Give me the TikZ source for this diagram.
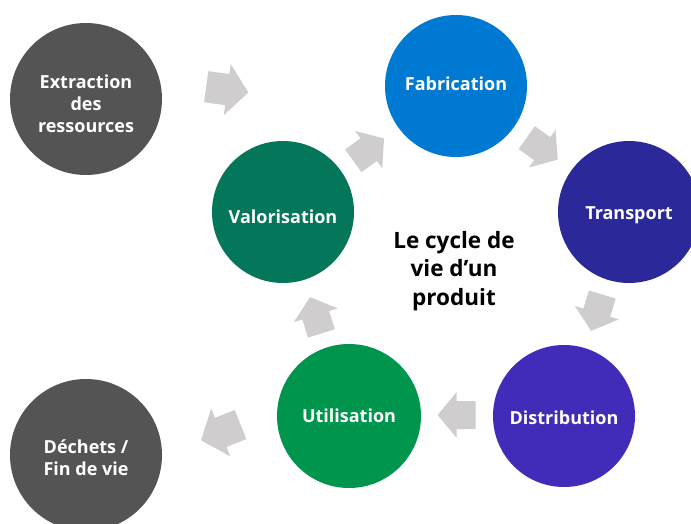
\documentclass[tikz,border=0pt]{standalone}
\usepackage{fontspec}
\setmainfont{Open Sans}
\newcommand\labelfont{\bfseries\fontsize{18}{22}\selectfont}
\newcommand\headfont{\bfseries\fontsize{22.5}{28.5}\selectfont}
\newcommand\liftone[2]{\raisebox{#1}[\height][\depth]{#2}}
\newcommand\liftmany[2]{\raisebox{#1}[\height][\depth]{\begin{tabular}{@{}c@{}}#2\end{tabular}}}
\definecolor{stonegray}{HTML}{545454}
\definecolor{fabblue}{HTML}{0079D3}
\definecolor{transind}{HTML}{2B2899}
\definecolor{distviolet}{HTML}{412BB9}
\definecolor{utilgreen}{HTML}{00954C}
\definecolor{valgreen}{HTML}{04775A}
\definecolor{arrowgray}{HTML}{CFCDCD}
\tikzset{
  stage/.style={circle, inner sep=0pt, text=white, align=center, font=\labelfont},
  bigstage/.style={stage, minimum size=152pt, fill=stonegray},
  smallstage/.style={stage, minimum size=142pt},
  titletext/.style={align=center, text=black, font=\headfont},
  barrow/.pic={
    \fill[arrowgray] (0,-14) -- (19,-14) -- (19,-23) -- (38,0) -- (19,23) -- (19,14) -- (0,14) -- cycle;
  }
}
\begin{document}
\begin{tikzpicture}[x=1pt,y=-1pt]
\clip (0,0) rectangle (691,524);
\fill[white] (0,0) rectangle (691,524);

\node[bigstage] (extr) at (86,99) {\liftmany{-7pt}{Extraction\\des\\ressources}};
\node[smallstage, fill=fabblue] (fabr) at (456,86) {\liftone{2pt}{Fabrication}};
\node[smallstage, fill=transind] (trans) at (629,212) {\liftone{-3pt}{Transport}};
\node[smallstage, fill=valgreen] (valo) at (283,212) {\liftone{-5pt}{Valorisation}};
\node[smallstage, fill=distviolet] (distr) at (564,416) {\liftone{-1.5pt}{Distribution}};
\node[smallstage, fill=utilgreen, minimum size=144pt] (util) at (349,416) {Utilisation};
\node[bigstage] (dech) at (86,455) {\liftmany{-5pt}{Déchets /\\Fin de vie}};

\node[titletext] (titre) at (454,271) {Le cycle de\\vie d’un\\produit};

\coordinate (a1) at (206.2,86.7);
\coordinate (a2) at (526.7,137.7);
\coordinate (a3) at (602.3,294.5);
\coordinate (a4) at (475.7,415);
\coordinate (a5) at (321.4,333.4);
\coordinate (a6) at (353.3,160.8);
\coordinate (a7) at (240.5,424.5);

\pic[rotate=-7.9, scale=1.12] at (a1) {barrow};
\pic[rotate=-35.2] at (a2) {barrow};
\pic[rotate=-106.9] at (a3) {barrow};
\pic[rotate=180] at (a4) {barrow};
\pic[rotate=107.3] at (a5) {barrow};
\pic[rotate=36] at (a6) {barrow};
\pic[rotate=-158.2, scale=1.12] at (a7) {barrow};
\end{tikzpicture}
\end{document}
